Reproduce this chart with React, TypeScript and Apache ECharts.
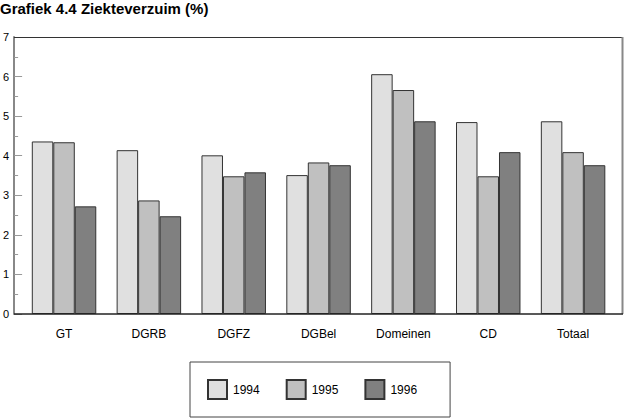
import React, { useEffect, useRef } from "react";
import * as echarts from "echarts";

const categories = ["GT", "DGRB", "DGFZ", "DGBel", "Domeinen", "CD", "Totaal"];
const years = ["1994", "1995", "1996"];
const values1994 = [4.36, 4.14, 4.01, 3.51, 6.06, 4.85, 4.87];
const values1995 = [4.34, 2.87, 3.48, 3.83, 5.66, 3.48, 4.09];
const values1996 = [2.72, 2.47, 3.58, 3.76, 4.87, 4.09, 3.76];
const yTicks = [0, 1, 2, 3, 4, 5, 6, 7];
const colors = ["#e0e0e0", "#c0c0c0", "#808080"];

const FONT = "'Liberation Sans', Arial, Helvetica, sans-serif";

export default function App() {
  const ref = useRef<HTMLDivElement>(null);
  useEffect(() => {
    if (!ref.current) return;
    const chart = echarts.init(ref.current, undefined, { renderer: "svg" });
    const seriesData = [values1994, values1995, values1996];
    chart.setOption({
      animation: false,
      backgroundColor: "#ffffff",
      textStyle: { fontFamily: FONT },
      title: {
        text: "Grafiek 4.4 Ziekteverzuim (%)",
        left: -5,
        top: -4,
        textStyle: { fontSize: 15, fontWeight: "bold", color: "#000", fontFamily: FONT },
      },
      legend: {
        data: years,
        left: 190,
        top: 362,
        orient: "horizontal",
        itemWidth: 19,
        itemHeight: 19,
        itemGap: 26,
        padding: [17, 33, 17, 17],
        borderColor: "#444",
        borderWidth: 1,
        icon: "rect",
        textStyle: { fontSize: 12, color: "#000", fontFamily: FONT, padding: [0, 0, 0, 1] },
      },
      grid: { left: 21.5, right: 8.5, top: 37, bottom: 105, containLabel: false },
      xAxis: {
        type: "category",
        data: categories,
        boundaryGap: true,
        axisLine: { show: false },
        axisTick: { show: true, inside: true, alignWithLabel: true, length: 6, lineStyle: { color: "#999" } },
        axisLabel: { color: "#000", fontSize: 12, margin: 14, fontFamily: FONT },
        splitLine: { show: false },
      },
      yAxis: {
        type: "value",
        min: 0,
        max: 7,
        interval: 1,
        offset: 7.5,
        axisLine: { show: true, lineStyle: { color: "#888", width: 2 } },
        axisTick: { show: true, inside: true, length: 8, lineStyle: { color: "#999" } },
        minorTick: { show: true, splitNumber: 2, length: 4, lineStyle: { color: "#999" } },
        axisLabel: {
          color: "#000",
          fontSize: 11,
          margin: 5,
          fontFamily: FONT,
          formatter: (v: number) => (yTicks.includes(v) ? String(v) : ""),
        },
        splitLine: { show: false },
      },
      graphic: [
        { type: "line", shape: { x1: 14, y1: 37.5, x2: 622, y2: 37.5 }, style: { stroke: "#333", lineWidth: 1 }, z: 10 },
        { type: "line", shape: { x1: 622.5, y1: 37, x2: 622.5, y2: 314 }, style: { stroke: "#888", lineWidth: 2 }, z: 10 },
        { type: "line", shape: { x1: 14, y1: 314, x2: 623, y2: 314 }, style: { stroke: "#222", lineWidth: 1.5 }, z: 10 },
      ],
      series: years.map((y, i) => ({
        name: y,
        type: "bar",
        data: seriesData[i],
        barGap: "0%",
        barCategoryGap: "24%",
        itemStyle: { color: colors[i], borderColor: "#333", borderWidth: 1 },
      })),
    });
    return () => chart.dispose();
  }, []);
  return <div ref={ref} style={{ width: 624, height: 419, position: "absolute", left: 0, top: 0 }} />;
}
